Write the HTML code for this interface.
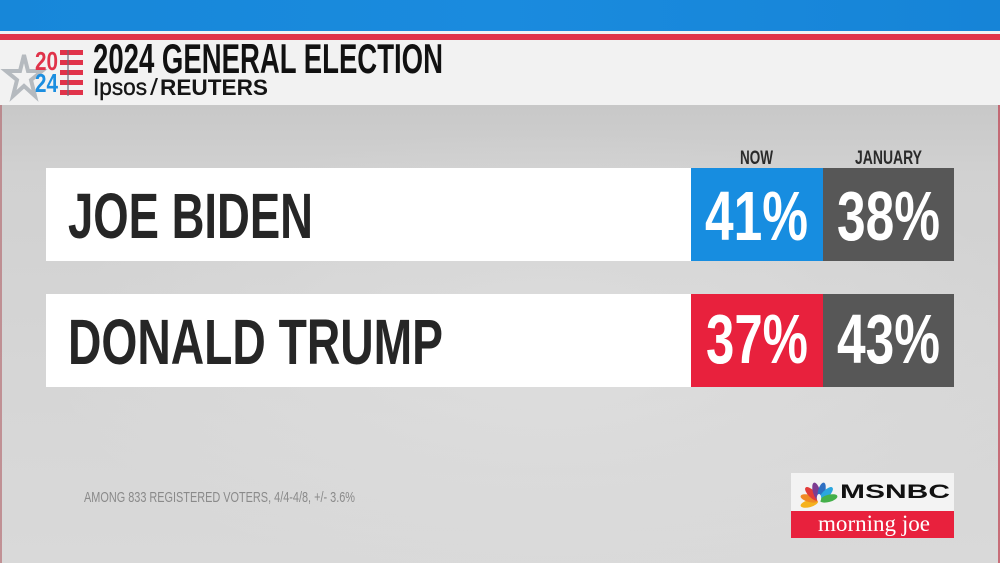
<!DOCTYPE html>
<html>
<head>
<meta charset="utf-8">
<style>
  html,body{margin:0;padding:0;background:#d3d3d3;}
  svg{display:block;}
  text{font-family:"Liberation Sans", sans-serif;}
</style>
</head>
<body>
<svg width="1000" height="563" viewBox="0 0 1000 563" xmlns="http://www.w3.org/2000/svg">
  <defs>
    <linearGradient id="bodyg" x1="0" y1="0" x2="0" y2="1">
      <stop offset="0" stop-color="#c8c8c8"/>
      <stop offset="0.15" stop-color="#d1d1d1"/>
      <stop offset="0.6" stop-color="#d6d6d6"/>
      <stop offset="1" stop-color="#d9d9d9"/>
    </linearGradient>
    <radialGradient id="spot" cx="0.55" cy="0.55" r="0.5">
      <stop offset="0" stop-color="#e2e2e2" stop-opacity="0.6"/>
      <stop offset="1" stop-color="#e2e2e2" stop-opacity="0"/>
    </radialGradient>
    <linearGradient id="blueg" x1="0" y1="0" x2="1" y2="0">
      <stop offset="0" stop-color="#1787d9"/>
      <stop offset="0.5" stop-color="#1a8bde"/>
      <stop offset="1" stop-color="#1684d7"/>
    </linearGradient>
  </defs>

  <!-- body background -->
  <rect x="0" y="105" width="1000" height="458" fill="url(#bodyg)"/>
  <rect x="0" y="105" width="1000" height="458" fill="url(#spot)"/>
  <rect x="0" y="105" width="2" height="458" fill="#b06068" opacity="0.6"/>
  <rect x="998" y="105" width="2" height="458" fill="#c04050" opacity="0.7"/>

  <!-- top bands -->
  <rect x="0" y="0" width="1000" height="31" fill="url(#blueg)"/>
  <rect x="0" y="31" width="1000" height="3" fill="#eef1f4"/>
  <rect x="0" y="34" width="1000" height="6" fill="#e0344a"/>
  <rect x="0" y="40" width="1000" height="65" fill="#f2f2f2"/>

  <!-- logo: star -->
  <polygon points="24,55 28,71 42,71 31,80 35,96 24,86 13,96 17,80 6,71 20,71" fill="#f2f2f2" stroke="#b5babf" stroke-width="4" stroke-linejoin="miter"/>
  <!-- stripes -->
  <g fill="#e0334a">
    <rect x="60" y="50" width="23" height="5"/>
    <rect x="60" y="60" width="23" height="5"/>
    <rect x="60" y="70" width="23" height="5"/>
    <rect x="60" y="80" width="23" height="5"/>
    <rect x="60" y="90" width="23" height="5"/>
  </g>
  <rect x="67" y="50" width="2" height="46" fill="#6a6a7a" opacity="0.6"/>
  <text x="35" y="70" font-size="26" font-weight="bold" fill="#e0334a" textLength="23" lengthAdjust="spacingAndGlyphs">20</text>
  <text x="35" y="92" font-size="26" font-weight="bold" fill="#1c8ee0" textLength="23" lengthAdjust="spacingAndGlyphs">24</text>

  <!-- header titles -->
  <text x="93" y="73" font-size="42" font-weight="bold" fill="#111" textLength="350" lengthAdjust="spacingAndGlyphs">2024 GENERAL ELECTION</text>
  <text x="93" y="95" font-size="23" fill="#151515" stroke="#151515" stroke-width="0.4" textLength="54" lengthAdjust="spacingAndGlyphs">Ipsos</text>
  <text x="150" y="95" font-size="23" fill="#151515" textLength="8" lengthAdjust="spacingAndGlyphs">/</text>
  <text x="160" y="95" font-size="22" font-weight="bold" fill="#151515" textLength="108" lengthAdjust="spacingAndGlyphs">REUTERS</text>

  <!-- column headers -->
  <text x="740" y="164" font-size="19" font-weight="bold" fill="#2a2a2a" textLength="33" lengthAdjust="spacingAndGlyphs">NOW</text>
  <text x="855" y="164" font-size="19" font-weight="bold" fill="#2a2a2a" textLength="67" lengthAdjust="spacingAndGlyphs">JANUARY</text>

  <!-- row 1 -->
  <rect x="46" y="168" width="645" height="93" fill="#ffffff"/>
  <rect x="691" y="168" width="132" height="93" fill="#178de0"/>
  <rect x="823" y="168" width="131" height="93" fill="#575757"/>
  <text x="68" y="238" font-size="64" font-weight="bold" fill="#262626" textLength="245" lengthAdjust="spacingAndGlyphs">JOE BIDEN</text>
  <text x="705" y="240" font-size="70" font-weight="bold" fill="#ffffff" textLength="103" lengthAdjust="spacingAndGlyphs">41%</text>
  <text x="837" y="240" font-size="70" font-weight="bold" fill="#ffffff" textLength="103" lengthAdjust="spacingAndGlyphs">38%</text>

  <!-- row 2 -->
  <rect x="46" y="294" width="645" height="93" fill="#ffffff"/>
  <rect x="691" y="294" width="132" height="93" fill="#e8213d"/>
  <rect x="823" y="294" width="131" height="93" fill="#575757"/>
  <text x="68" y="364" font-size="64" font-weight="bold" fill="#262626" textLength="375" lengthAdjust="spacingAndGlyphs">DONALD TRUMP</text>
  <text x="706" y="363" font-size="70" font-weight="bold" fill="#ffffff" textLength="102" lengthAdjust="spacingAndGlyphs">37%</text>
  <text x="837" y="363" font-size="70" font-weight="bold" fill="#ffffff" textLength="103" lengthAdjust="spacingAndGlyphs">43%</text>

  <!-- footnote -->
  <text x="84" y="502" font-size="15" fill="#8a8a8a" textLength="271" lengthAdjust="spacingAndGlyphs">AMONG 833 REGISTERED VOTERS, 4/4-4/8, +/- 3.6%</text>

  <!-- MSNBC logo -->
  <rect x="791" y="473" width="163" height="38" fill="#f3f3f3"/>
  <rect x="791" y="511" width="163" height="27" fill="#e8213d"/>
  <g transform="translate(819,501)">
    <ellipse cx="-10" cy="0" rx="9" ry="3.6" transform="rotate(-15 0 0) translate(0 0) rotate(0)" fill="#f5b21e" />
    <ellipse cx="-10" cy="0" rx="9" ry="3.6" transform="rotate(15 0 0)" fill="#f08a24"/>
    <ellipse cx="-10" cy="0" rx="9" ry="3.6" transform="rotate(45 0 0)" fill="#e23c3a"/>
    <ellipse cx="-10" cy="0" rx="9" ry="3.6" transform="rotate(75 0 0)" fill="#7d3c91"/>
    <ellipse cx="-10" cy="0" rx="9" ry="3.6" transform="rotate(105 0 0)" fill="#2e6fc2"/>
    <ellipse cx="-10" cy="0" rx="9" ry="3.6" transform="rotate(135 0 0)" fill="#2aa6df"/>
    <ellipse cx="-10" cy="0" rx="9" ry="3.6" transform="rotate(165 0 0)" fill="#44b04a"/>
    <ellipse cx="0" cy="-3" rx="2.2" ry="4" fill="#f3f3f3"/>
  </g>
  <text x="840" y="498" font-size="19" font-weight="bold" fill="#111" textLength="110" lengthAdjust="spacingAndGlyphs">MSNBC</text>
  <text x="818" y="531" font-size="23" fill="#ffffff" textLength="112" lengthAdjust="spacingAndGlyphs" style="font-family:'Liberation Serif',serif">morning joe</text>
</svg>
</body>
</html>
